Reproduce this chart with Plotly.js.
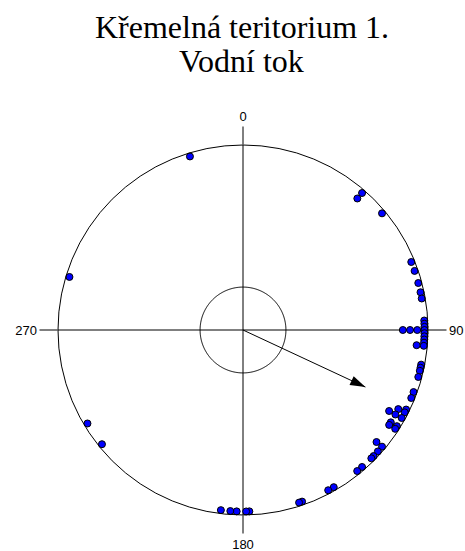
<!DOCTYPE html>
<html><head><meta charset="utf-8">
<script src="https://cdn.plot.ly/plotly-3.0.1.min.js"></script>
<style>html,body{margin:0;padding:0;background:#fff}#chart{width:465px;height:551px}</style>
</head><body><div id="chart"></div>
<script>
// ---- data ----
const titleLine1 = "Křemelná teritorium 1.";
const titleLine2 = "Vodní tok";
const axisTicks = [0, 90, 180, 270];
const axisLabels = ["0", "90", "180", "270"];
// measured directions (degrees, clockwise from north); repeats stack inward
const directions = [41, 41, 50, 68, 71, 75, 78, 80, 87, 88, 89, 90, 90, 90, 90, 91, 92, 93, 94, 95, 95,
  101, 102, 103, 105, 110, 112, 116, 117, 117, 119, 119, 119, 122, 122, 123, 123,
  130, 130, 132, 134, 135, 139, 141, 150, 152, 161, 162, 178, 179, 182, 184, 187, 231, 239, 287, 343];
const meanDirection = [115];
const meanLength = [0.73];
const criticalRadius = 0.232;

// ---- build ----
const OUTER = 0.981, STEP = 0.039;
const seen = {};
const dotR = directions.map(d => { const k = seen[d] || 0; seen[d] = k + 1; return OUTER - STEP * k; });
const circTheta = Array.from({length: 361}, (_, i) => i);
const circR = circTheta.map(() => criticalRadius);

const traces = [
  {type: 'scatterpolar', mode: 'lines', r: circR, theta: circTheta,
   line: {color: '#000', width: 1}, hoverinfo: 'skip', showlegend: false},
  {type: 'scatterpolar', mode: 'lines', r: [0, meanLength[0]], theta: [meanDirection[0], meanDirection[0]],
   line: {color: '#000', width: 1}, showlegend: false},
  {type: 'scatterpolar', mode: 'markers', r: meanLength, theta: meanDirection,
   marker: {symbol: 'arrow', size: 16, color: '#000', angle: meanDirection[0], line: {width: 0}}, showlegend: false},
  {type: 'scatterpolar', mode: 'markers', r: dotR, theta: directions,
   marker: {symbol: 'circle', size: 7, color: '#0000FF', line: {color: '#000', width: 1}}, showlegend: false}
];

const layout = {
  width: 465, height: 551,
  margin: {l: 0, r: 0, t: 0, b: 0},
  paper_bgcolor: '#fff',
  showlegend: false,
  title: {text: titleLine1, font: {family: 'Liberation Serif, Times New Roman, serif', size: 32, color: '#000'},
          x: 242/465, xanchor: 'center', y: 1 - 27/551, yanchor: 'middle', xref: 'paper', yref: 'container'},
  annotations: [{text: titleLine2, showarrow: false, xref: 'paper', yref: 'paper', x: 242/465, y: 1 - 61/551,
                 xanchor: 'center', yanchor: 'middle',
                 font: {family: 'Liberation Serif, Times New Roman, serif', size: 32, color: '#000'}}],
  polar: {
    domain: {x: [58/465, 428/465], y: [36/551, 406/551]},
    bgcolor: '#fff',
    radialaxis: {range: [0, 1], visible: false, showgrid: false},
    angularaxis: {
      rotation: 90, direction: 'clockwise',
      tickmode: 'array', tickvals: axisTicks, ticktext: axisLabels,
      ticks: 'outside', ticklen: 18, tickwidth: 1, tickcolor: '#000',
      showline: true, linecolor: '#000', linewidth: 1,
      showgrid: true, gridcolor: '#000', gridwidth: 1,
      tickfont: {family: 'Liberation Sans, Arial, sans-serif', size: 13, color: '#000'}
    }
  }
};
Plotly.newPlot('chart', traces, layout, {staticPlot: true});
</script></body></html>
